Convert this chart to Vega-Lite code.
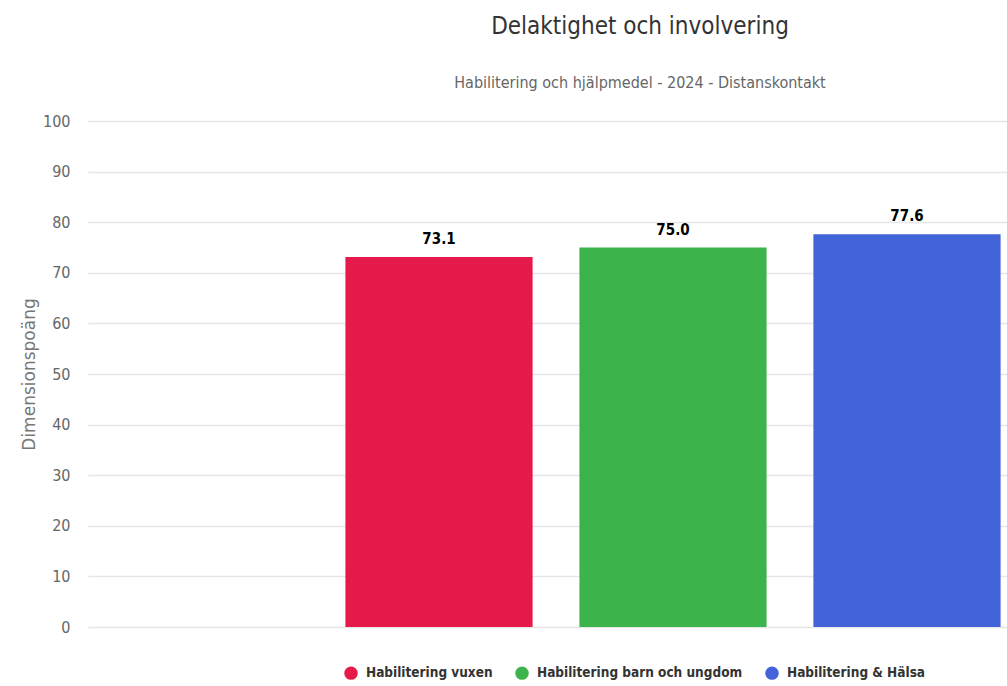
{
  "$schema": "https://vega.github.io/schema/vega-lite/v6.json",
  "autosize": {"type": "none"},
  "padding": {"left": 88, "top": 121, "right": 0, "bottom": 59},
  "width": 936,
  "height": 506,
  "background": "white",
  "title": {
    "text": "Delaktighet och involvering",
    "subtitle": "Habilitering och hjälpmedel - 2024 - Distanskontakt",
    "anchor": "middle",
    "dx": 84,
    "offset": 22,
    "font": "DejaVu Sans Condensed",
    "fontSize": 24,
    "fontWeight": "normal",
    "color": "#333333",
    "subtitleFont": "DejaVu Sans Condensed",
    "subtitleFontSize": 16,
    "subtitleColor": "#666666",
    "subtitlePadding": 36
  },
  "config": {
    "view": {"stroke": null},
    "font": "DejaVu Sans Condensed"
  },
  "data": {
    "values": [
      {"enhet": "Habilitering vuxen", "poang": 73.1},
      {"enhet": "Habilitering barn och ungdom", "poang": 75.0},
      {"enhet": "Habilitering & Hälsa", "poang": 77.6}
    ]
  },
  "encoding": {
    "x": {
      "field": "enhet",
      "type": "nominal",
      "sort": null,
      "scale": {
        "domain": [" ", "Habilitering vuxen", "Habilitering barn och ungdom", "Habilitering & Hälsa"],
        "paddingInner": 0.2,
        "paddingOuter": 0.1
      },
      "axis": {"labels": false, "ticks": false, "title": null, "domain": false}
    },
    "y": {
      "field": "poang",
      "type": "quantitative",
      "scale": {"domain": [0, 100]},
      "axis": {
        "title": "Dimensionspoäng",
        "titleFont": "DejaVu Sans",
        "titleFontSize": 17,
        "titleFontWeight": "normal",
        "titleColor": "#777777",
        "titlePadding": 4,
        "labelFontSize": 16,
        "labelColor": "#666666",
        "labelPadding": 18,
        "labelOverlap": false,
        "values": [0, 10, 20, 30, 40, 50, 60, 70, 80, 90, 100],
        "ticks": false,
        "domain": false,
        "gridColor": "#e6e6e6",
        "gridWidth": 1.5
      }
    }
  },
  "layer": [
    {
      "mark": {"type": "bar"},
      "encoding": {
        "color": {
          "field": "enhet",
          "type": "nominal",
          "sort": null,
          "scale": {
            "domain": ["Habilitering vuxen", "Habilitering barn och ungdom", "Habilitering & Hälsa"],
            "range": ["#e6194b", "#3cb44b", "#4363d8"]
          },
          "legend": {
            "title": null,
            "orient": "none",
            "direction": "horizontal",
            "legendX": 256,
            "legendY": 545,
            "symbolType": "circle",
            "symbolSize": 180,
            "symbolStrokeWidth": 0,
            "labelFontSize": 13.5,
            "labelFontWeight": "bold",
            "labelColor": "#333333",
            "labelLimit": 300,
            "labelOffset": 8,
            "columnPadding": 22
          }
        }
      }
    },
    {
      "mark": {"type": "text", "baseline": "bottom", "dy": -10, "fontSize": 15, "fontWeight": "bold", "color": "#000000"},
      "encoding": {
        "text": {"field": "poang", "type": "quantitative", "format": ".1f"}
      }
    }
  ]
}
